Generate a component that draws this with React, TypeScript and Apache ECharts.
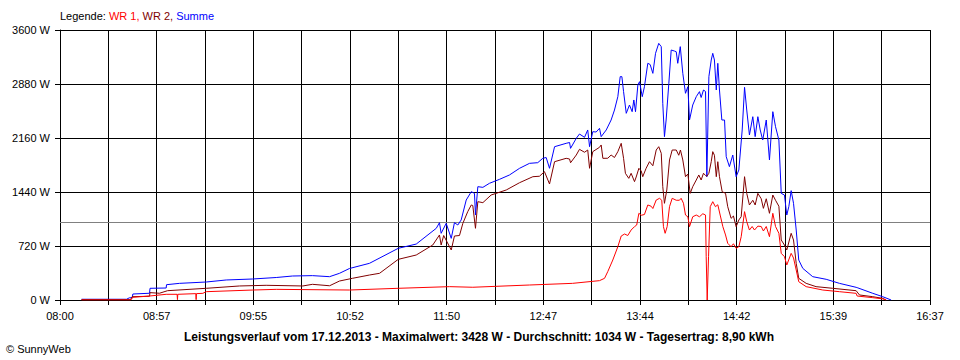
import React, { useEffect, useRef } from "react";
import * as echarts from "echarts";

// x: minutes since 08:00, y: Watt
const xTickLabels = ["08:00", "08:57", "09:55", "10:52", "11:50", "12:47", "13:44", "14:42", "15:39", "16:37"];
const yTickValues = [0, 720, 1440, 2160, 2880, 3600];
const X_MAX = 517;
const AVERAGE = 1034;

const summeData: [number, number][] = [
  [12.8, 10], [39.5, 10], [41.3, 30], [42.9, 30], [43.3, 80], [53.2, 90], [53.5, 156], [63.1, 160], [63.3, 204],
  [71.0, 222], [86.9, 240], [98.8, 267], [114.4, 280], [128.5, 300], [138.2, 320], [150.0, 325], [160.2, 311],
  [166.1, 356], [172.0, 420], [183.9, 489], [201.0, 689], [211.7, 746], [223.6, 956], [225.5, 1031], [226.5, 889],
  [229.5, 1022], [232.5, 822], [234.4, 1031], [236.4, 1000], [238.4, 1067], [241.4, 1333], [244.4, 1444],
  [246.3, 1422], [246.9, 1133], [248.3, 1511], [251.3, 1502], [255.2, 1556], [261.2, 1609], [267.1, 1667],
  [273.1, 1756], [279.0, 1822], [283.9, 1831], [286.9, 1889], [288.9, 1900], [290.9, 1756], [293.9, 2044],
  [300.8, 2089], [302.8, 2100], [303.4, 2022], [306.8, 2156], [308.7, 2213], [311.7, 2169], [313.6, 2267],
  [314.7, 2044], [316.6, 2244], [318.6, 2240], [320.6, 2289], [321.6, 2178], [324.6, 2267], [327.5, 2400],
  [329.5, 2533], [331.5, 2711], [332.9, 2978], [333.9, 2978], [334.9, 2778], [336.5, 2489], [338.4, 2600],
  [340.0, 2511], [341.0, 2667], [342.0, 2511], [343.4, 2867], [344.4, 2911], [346.0, 2711], [347.3, 2844],
  [349.3, 3156], [350.7, 3140], [352.3, 3022], [353.9, 3289], [355.8, 3422], [357.3, 3378], [358.2, 2622],
  [359.2, 2178], [360.2, 2400], [361.8, 2889], [363.2, 3333], [365.1, 3320], [366.2, 3310], [367.1, 3156],
  [368.6, 3378], [370.1, 3022], [371.7, 2756], [373.1, 2844], [374.1, 2400], [376.0, 2600], [378.1, 2711],
  [380.0, 2778], [381.0, 2700], [382.4, 2800], [383.6, 2780], [384.4, 1644], [385.6, 2978], [387.0, 3200],
  [387.9, 3289], [388.9, 3200], [390.0, 2800], [390.9, 3156], [391.9, 2800], [393.3, 2400], [394.9, 2400],
  [395.9, 1911], [397.8, 1778], [399.8, 1933], [401.8, 1644], [403.4, 1733], [405.4, 2267], [406.8, 2836],
  [408.1, 2533], [409.7, 2200], [411.7, 2444], [413.1, 2178], [414.7, 2444], [416.1, 2267], [417.6, 2133],
  [419.7, 2400], [421.6, 1867], [423.6, 2511], [425.2, 2311], [427.2, 2133], [428.6, 1422], [430.5, 1400],
  [431.9, 1133], [433.1, 1244], [434.5, 1458], [435.9, 1289], [437.5, 933], [439.0, 533], [441.4, 422],
  [447.3, 311], [455.3, 276], [463.2, 222], [473.1, 169], [473.7, 165], [483.0, 89], [488.9, 44], [493.9, 0],
];

const wr2Data: [number, number][] = [
  [12.8, 5], [42.0, 5], [42.9, 44], [53.2, 50], [53.5, 98], [59.1, 90], [63.9, 124], [86.9, 156], [106.7, 187],
  [122.5, 196], [144.3, 187], [150.0, 209], [160.2, 190], [166.1, 253], [173.8, 289], [183.9, 333], [189.9, 356],
  [201.0, 542], [211.7, 600], [221.5, 733], [225.5, 867], [226.5, 733], [228.0, 860], [232.5, 667], [234.4, 853],
  [237.4, 860], [239.4, 1022], [242.3, 1178], [244.4, 1267], [245.3, 1260], [246.9, 956], [248.3, 1311],
  [251.3, 1298], [256.2, 1400], [265.2, 1467], [273.1, 1564], [281.0, 1644], [284.9, 1650], [287.9, 1711],
  [290.9, 1547], [293.9, 1844], [300.8, 1889], [302.8, 1880], [303.4, 1830], [306.8, 1933], [308.7, 2009],
  [311.7, 1970], [313.6, 2000], [314.7, 1756], [316.6, 1978], [320.6, 2036], [321.6, 2067], [322.6, 1889],
  [325.5, 1890], [327.5, 1933], [329.5, 1900], [331.5, 1978], [333.5, 2089], [334.9, 1889], [336.0, 1689],
  [338.0, 1622], [339.4, 1689], [341.4, 1578], [342.4, 1640], [344.0, 1756], [345.4, 1720], [346.3, 1644],
  [348.3, 1756], [350.3, 1844], [352.3, 1790], [354.3, 2000], [355.8, 2044], [357.3, 1956], [358.2, 1511],
  [359.2, 1289], [360.6, 1467], [362.2, 1867], [363.8, 2000], [366.2, 2000], [367.7, 1930], [368.7, 2000],
  [370.1, 1867], [371.7, 1644], [373.1, 1680], [374.5, 1422], [376.0, 1511], [378.1, 1600], [379.6, 1667],
  [381.0, 1600], [382.4, 1690], [383.6, 1660], [384.4, 1650], [385.6, 1690], [387.0, 1844], [387.9, 1978],
  [388.9, 1930], [390.0, 1644], [390.9, 1844], [391.9, 1644], [393.5, 1444], [395.5, 1422], [396.8, 1244],
  [398.8, 1089], [400.2, 1120], [401.8, 978], [403.4, 1067], [404.8, 1111], [406.8, 1644], [408.1, 1422],
  [409.7, 1267], [411.7, 1330], [413.1, 1267], [414.7, 1422], [416.7, 1350], [418.0, 1222], [419.7, 1350],
  [421.6, 1156], [423.6, 1400], [425.2, 1330], [427.2, 1250], [428.6, 800], [430.5, 733], [431.9, 667],
  [434.5, 889], [435.9, 800], [437.5, 489], [439.0, 289], [443.4, 222], [449.3, 178], [459.2, 156],
  [473.1, 124], [475.1, 67], [483.0, 44], [488.9, 22], [490.9, 0],
];

const wr1Data: [number, number][] = [
  [12.8, 0], [42.0, 0], [43.3, 36], [53.2, 53], [63.1, 76], [69.6, 76], [69.8, 5], [70.0, 76], [80.7, 85],
  [80.9, 5], [81.1, 85], [84.9, 89], [86.9, 111], [114.6, 133], [128.5, 142], [172.0, 133], [201.0, 156],
  [231.5, 178], [245.3, 170], [279.0, 200], [304.6, 222], [320.6, 258], [323.6, 289], [325.5, 378], [328.5, 533],
  [331.5, 711], [333.5, 853], [335.5, 880], [337.4, 860], [339.4, 933], [341.4, 978], [342.7, 1000],
  [344.0, 1156], [345.4, 1130], [347.3, 1140], [349.3, 1267], [351.3, 1250], [352.3, 1220], [354.3, 1333],
  [356.3, 1356], [357.6, 1330], [358.6, 978], [359.6, 889], [360.8, 978], [362.2, 1244], [363.8, 1356],
  [366.2, 1330], [368.1, 1330], [369.1, 1356], [370.5, 1290], [371.7, 1133], [373.1, 1110], [374.1, 978],
  [376.0, 1110], [378.1, 1133], [380.0, 1110], [382.0, 1150], [383.6, 1133], [384.0, 578], [384.6, 0],
  [385.4, 578], [386.4, 1244], [387.9, 1311], [389.5, 1244], [390.9, 1270], [392.3, 1133], [393.9, 978],
  [395.5, 867], [396.8, 756], [398.8, 711], [400.2, 750], [401.8, 689], [403.4, 711], [404.8, 844],
  [406.8, 1178], [408.1, 1044], [409.7, 933], [411.3, 980], [412.7, 933], [414.7, 985], [416.7, 980],
  [418.0, 920], [419.7, 980], [421.6, 844], [423.6, 1156], [425.2, 980], [427.2, 889], [428.6, 622],
  [430.5, 578], [431.9, 467], [434.5, 622], [435.9, 560], [437.5, 400], [439.0, 244], [443.4, 178],
  [453.3, 133], [463.2, 111], [473.1, 89], [473.7, 53], [483.0, 31], [488.9, 15], [491.0, 0],
];

const FONT = "'Liberation Sans', Arial, sans-serif";
const STEP = X_MAX / 18;

export default function App() {
  const ref = useRef<HTMLDivElement>(null);
  useEffect(() => {
    if (!ref.current) return;
    const chart = echarts.init(ref.current, undefined, { renderer: "svg" });
    const lineSeries = (name: string, color: string, data: [number, number][], z: number) => ({
      name,
      type: "line",
      data,
      showSymbol: false,
      symbol: "none",
      z,
      lineStyle: { color, width: 1 },
      itemStyle: { color },
    });
    chart.setOption({
      animation: false,
      backgroundColor: "#ffffff",
      textStyle: { fontFamily: FONT },
      grid: { left: 60, right: 30, top: 30, height: 270 },
      xAxis: {
        type: "value",
        min: 0,
        max: X_MAX,
        interval: STEP,
        axisLine: { show: true, lineStyle: { color: "#000", width: 1 } },
        axisTick: { show: true, length: 5, lineStyle: { color: "#000" } },
        axisLabel: {
          color: "#000",
          fontSize: 11,
          fontFamily: FONT,
          margin: 10,
          formatter: (v: number) => {
            const i = Math.round(v / STEP);
            return i % 2 === 0 ? xTickLabels[i / 2] ?? "" : "";
          },
        },
        splitLine: { show: true, lineStyle: { color: "#000", width: 1 } },
      },
      yAxis: {
        type: "value",
        min: yTickValues[0],
        max: yTickValues[yTickValues.length - 1],
        interval: 720,
        axisLine: { show: true, lineStyle: { color: "#000", width: 1 } },
        axisTick: { show: true, length: 5, lineStyle: { color: "#000" } },
        axisLabel: {
          color: "#000",
          fontSize: 11,
          fontFamily: FONT,
          margin: 10,
          formatter: (v: number) => `${v} W`,
        },
        splitLine: { show: true, lineStyle: { color: "#000", width: 1 } },
      },
      series: [
        {
          ...lineSeries("WR 1", "#ff0000", wr1Data, 4),
          markLine: {
            silent: true,
            symbol: "none",
            label: { show: false },
            lineStyle: { color: "#808080", width: 1, type: "solid" },
            data: [{ yAxis: AVERAGE }],
            z: 1,
          },
        },
        lineSeries("WR 2", "#800000", wr2Data, 3),
        lineSeries("Summe", "#0000ff", summeData, 2),
      ],
      graphic: [
        {
          type: "text",
          left: 60,
          top: 10,
          style: {
            text: "{k|Legende: }{a|WR 1, }{b|WR 2, }{c|Summe}",
            font: `11px ${FONT}`,
            rich: {
              k: { fill: "#000", fontSize: 11, fontFamily: FONT },
              a: { fill: "#ff0000", fontSize: 11, fontFamily: FONT },
              b: { fill: "#800000", fontSize: 11, fontFamily: FONT },
              c: { fill: "#0000ff", fontSize: 11, fontFamily: FONT },
            },
          },
        },
        {
          type: "text",
          x: 479,
          y: 337,
          style: {
            text: "Leistungsverlauf vom 17.12.2013 - Maximalwert: 3428 W - Durchschnitt: 1034 W - Tagesertrag: 8,90 kWh",
            fill: "#000",
            font: `bold 12px ${FONT}`,
            align: "center",
            verticalAlign: "middle",
          },
        },
        {
          type: "text",
          x: 6,
          y: 349,
          style: {
            text: "© SunnyWeb",
            fill: "#000",
            font: `11px ${FONT}`,
            align: "left",
            verticalAlign: "middle",
          },
        },
      ],
    });
    return () => chart.dispose();
  }, []);
  return <div ref={ref} style={{ position: "fixed", left: 0, top: 0, width: 960, height: 360 }} />;
}
